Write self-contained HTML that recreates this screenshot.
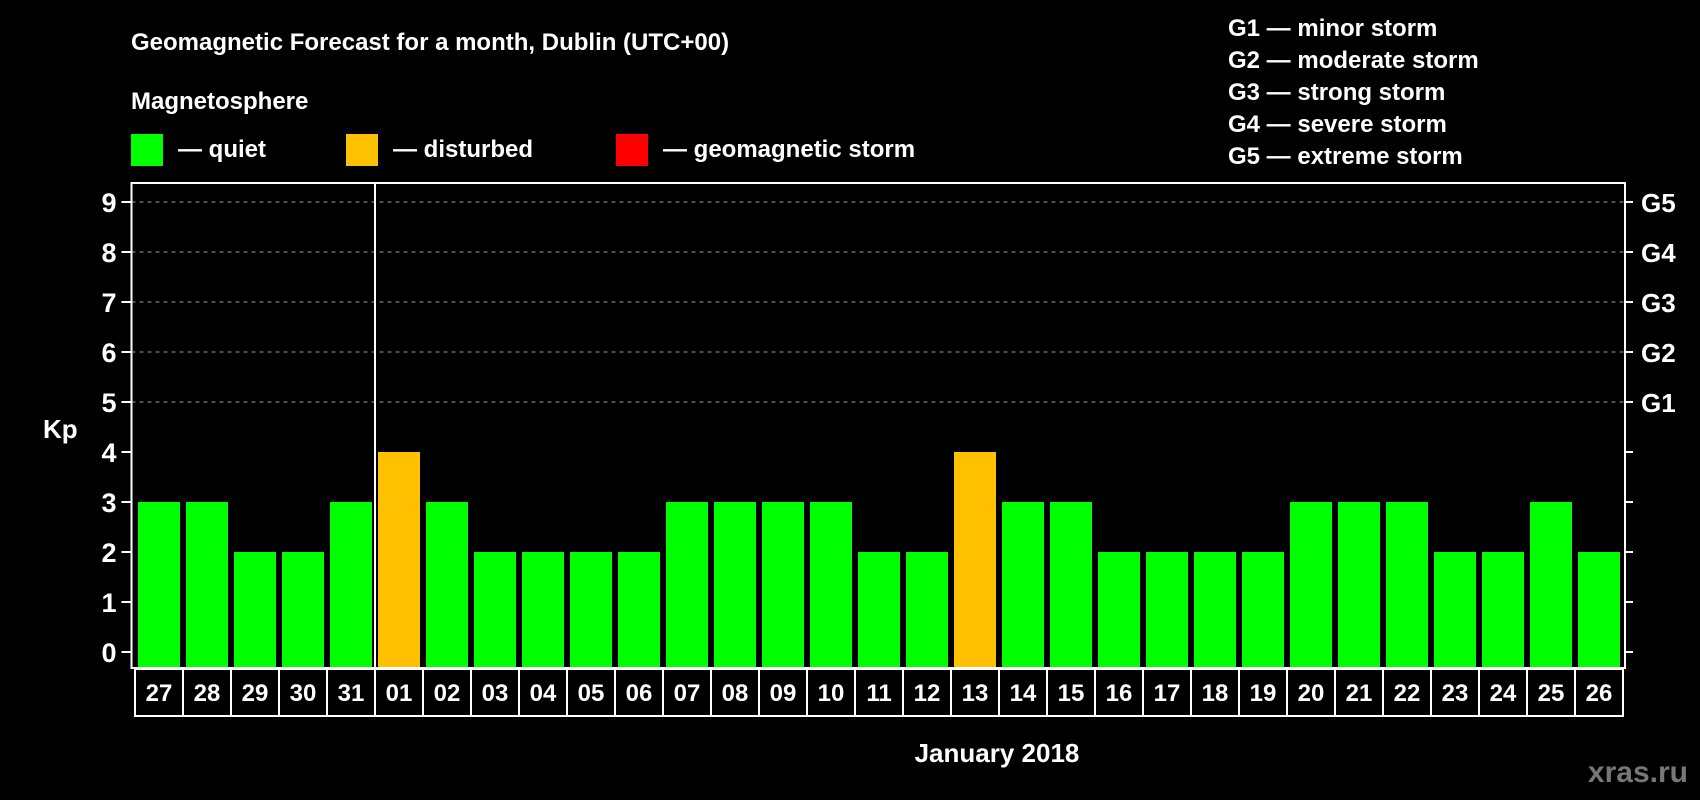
<!DOCTYPE html>
<html><head><meta charset="utf-8"><style>
html,body{margin:0;padding:0;background:#000;}
svg{display:block;font-family:"Liberation Sans",Arial,sans-serif;font-weight:bold;}
</style></head><body>
<svg id="c" width="1700" height="800" viewBox="0 0 1700 800" xmlns="http://www.w3.org/2000/svg">
<rect width="1700" height="800" fill="#000"/>
<text x="131" y="50" fill="#fff" font-size="24">Geomagnetic Forecast for a month, Dublin (UTC+00)</text>
<text x="131" y="109" fill="#fff" font-size="24">Magnetosphere</text>
<g><rect x="131" y="134" width="32" height="32" fill="#00ff00"/><text x="178" y="157" fill="#fff" font-size="24">— quiet</text></g>
<g><rect x="346" y="134" width="32" height="32" fill="#ffc000"/><text x="393" y="157" fill="#fff" font-size="24">— disturbed</text></g>
<g><rect x="616" y="134" width="32" height="32" fill="#ff0000"/><text x="663" y="157" fill="#fff" font-size="24">— geomagnetic storm</text></g>
<g fill="#fff" font-size="24">
<text x="1228" y="36">G1 — minor storm</text>
<text x="1228" y="68">G2 — moderate storm</text>
<text x="1228" y="100">G3 — strong storm</text>
<text x="1228" y="132">G4 — severe storm</text>
<text x="1228" y="164">G5 — extreme storm</text>
</g>
<text x="43" y="438" fill="#fff" font-size="26">Kp</text>
<text x="997" y="762" fill="#fff" font-size="26" text-anchor="middle">January 2018</text>
<text x="1688" y="782" fill="#777" font-size="30" text-anchor="end">xras.ru</text>
<g id="plot"></g>
</svg>
<script>
const days = ["27","28","29","30","31","01","02","03","04","05","06","07","08","09","10","11","12","13","14","15","16","17","18","19","20","21","22","23","24","25","26"];
const kp = [3,3,2,2,3,4,3,2,2,2,2,3,3,3,3,2,2,4,3,3,2,2,2,2,3,3,3,2,2,3,2];
const yTicks = [0,1,2,3,4,5,6,7,8,9];
const gLabels = ["G1","G2","G3","G4","G5"];
const gLevels = [5,6,7,8,9];
const NS="http://www.w3.org/2000/svg";
const g=document.getElementById('plot');
const X0=135, SLOT=48, Y0=652, UNIT=50, L=131.5, R=1625, T=183, B=668;
const xs=i=>X0+i*SLOT;
const ys=v=>Y0-v*UNIT;
function mk(tag,attrs,parent){const e=document.createElementNS(NS,tag);for(const k in attrs)e.setAttribute(k,attrs[k]);(parent||g).appendChild(e);return e;}
// gridlines
gLevels.forEach(v=>{
  const l=mk('line',{x1:L,x2:R,y1:ys(v),y2:ys(v),stroke:'#999','stroke-width':1,'stroke-dasharray':'4,4'});
  
  
});
// bars
kp.forEach((v,i)=>{
  const col=v>=5?'#ff0000':(v>=4?'#ffc000':'#00ff00');
  const r=mk('rect',{x:xs(i)+3,y:ys(v),width:42,height:B-ys(v),fill:col});
  
  
});
// frame
const f=mk('rect',{x:L,y:T,width:R-L,height:B-T,fill:'none',stroke:'#fff','stroke-width':2});


const dv=days.indexOf("01");
const d=mk('line',{x1:xs(dv),x2:xs(dv),y1:T,y2:B,stroke:'#fff','stroke-width':2});


// y ticks
yTicks.forEach(v=>{
  const t=mk('line',{x1:L-10,x2:L,y1:ys(v),y2:ys(v),stroke:'#fff','stroke-width':2});
  
  
  const t2=mk('line',{x1:R,x2:R+8,y1:ys(v),y2:ys(v),stroke:'#fff','stroke-width':2});
  
  
  const lb=mk('text',{x:L-15,y:ys(v)+10,fill:'#fff','font-size':27,'text-anchor':'end'});
  lb.textContent=v;
  
  
});
gLabels.forEach((s,i)=>{
  const lb=mk('text',{x:R+16,y:ys(gLevels[i])+10,fill:'#fff','font-size':26});
  lb.textContent=s;
  
  
});
// day label boxes
days.forEach((s,i)=>{
  const r=mk('rect',{x:xs(i),y:669,width:SLOT,height:47,fill:'#000',stroke:'#fff','stroke-width':2});
  
  
  const t=mk('text',{x:xs(i)+SLOT/2,y:701,fill:'#fff','font-size':24,'text-anchor':'middle'});
  t.textContent=s;
  
  
});
</script>
</body></html>
